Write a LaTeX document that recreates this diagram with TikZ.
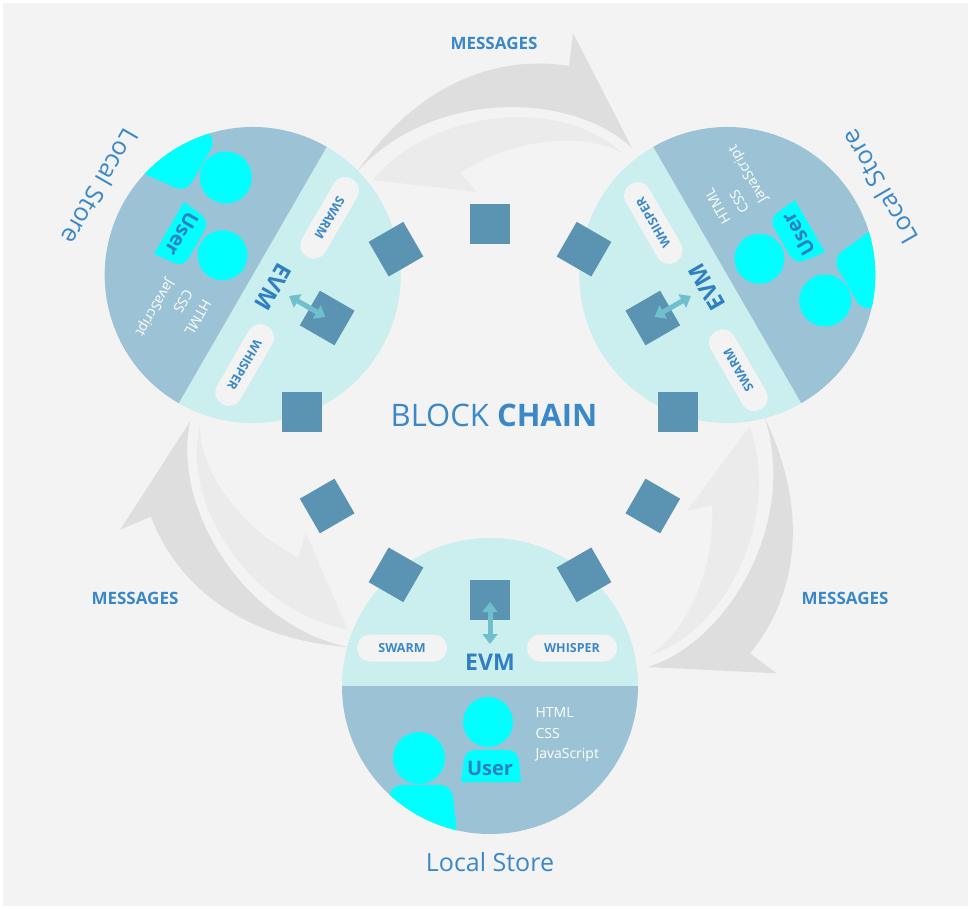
\documentclass[tikz,border=0pt]{standalone}
\usepackage{fontspec}
\setmainfont{Open Sans}
\usetikzlibrary{arrows.meta}
\definecolor{bg}{HTML}{F3F3F3}
\definecolor{upper}{HTML}{CBEEEE}
\definecolor{lower}{HTML}{9CC3D5}
\definecolor{txtblue}{HTML}{3A88C8}
\definecolor{evmblue}{HTML}{2F7FC1}
\definecolor{sqc}{HTML}{5B93B3}
\definecolor{arrc}{HTML}{6FBFCC}
\definecolor{grayA}{HTML}{DEDEDE}
\definecolor{grayB}{HTML}{EBEBEB}
\definecolor{cyanu}{HTML}{00FFFF}
\tikzset{
  pill/.style={fill=bg, rounded corners=13pt, minimum width=90pt, minimum height=27pt, inner sep=0pt, text=txtblue, font=\bfseries\fontsize{12.5}{12.5}\selectfont},
  sq/.style={fill=sqc, minimum size=40pt, inner sep=0pt},
  evmarrow/.style={arrc, line width=5pt, {Triangle[width=15pt,length=10pt]}-{Triangle[width=15pt,length=10pt]}, shorten <=2pt},
  msg/.style={text=txtblue, font=\bfseries\fontsize{17}{17}\selectfont},
  web/.style={text=white, anchor=west, font=\fontsize{14}{14}\selectfont},
}
\newcommand\nodeview[1]{%
  \begin{scope}
    \clip (490,686) circle (148);
    \fill[upper] (330,520) rectangle (650,686);
    \fill[lower] (330,686) rectangle (650,850);
    \fill[cyanu] (419,758) circle (26);
    \fill[cyanu] (385,845) [rounded corners=12pt] -- (390,785) -- (452,785) [sharp corners] -- (458,845) -- cycle;
    \fill[cyanu] (488,722) circle (25);
    \fill[cyanu] (461,782) [rounded corners=10pt] -- (465,750) -- (518,750) [sharp corners] -- (521,782) -- cycle;
  \end{scope}
  \node[pill] (swarm#1) at (402,648) {SWARM};
  \node[pill] (whisper#1) at (572,648) {WHISPER};
  \node[text=evmblue, font=\bfseries\fontsize{23}{23}\selectfont] (evm#1) at (490,662) {EVM};
  \node[text=evmblue, font=\bfseries\fontsize{20}{20}\selectfont] (user#1) at (490,768) {User};
  \node[web] (html#1) at (532,712) {HTML};
  \node[web] (css#1) at (532,733) {CSS};
  \node[web] (js#1) at (532,755) {JavaScript};
  \node[text=txtblue, font=\fontsize{25}{25}\selectfont] (ls#1) at (490,862) {Local Store};
}
\newcommand\gaparrows{%
  \fill[grayA] (357,172) .. controls (420,80) and (500,55) .. (569,66) -- (573,33) -- (632,148) .. controls (570,90) and (430,90) .. (357,172) -- cycle;
  \fill[grayB] (622,153) .. controls (560,95) and (430,110) .. (373,180) -- (477,192) -- (460,173) .. controls (510,140) and (580,130) .. (622,153) -- cycle;
}
\begin{document}
\begin{tikzpicture}[x=1pt,y=-1pt]
\useasboundingbox (0,0) rectangle (971,909);
\fill[white] (0,0) rectangle (971,909);
\fill[bg] (3,3) rectangle (968,906);
\gaparrows
\begin{scope}[rotate around={120:(490,412)}] \gaparrows \end{scope}
\begin{scope}[rotate around={-120:(490,412)}] \gaparrows \end{scope}
\nodeview{b}
\begin{scope}[rotate around={-120:(490,412)}, transform shape] \nodeview{l} \end{scope}
\begin{scope}[rotate around={120:(490,412)}, transform shape] \nodeview{r} \end{scope}
\foreach \k in {0,...,11}{
  \begin{scope}[rotate around={30*\k:(490,412)}, transform shape]
    \node[sq] (sq\k) at (490,600) {};
  \end{scope}
}
\coordinate (eb) at (490,644);
\draw[evmarrow] (sq0.center) -- (eb);
\begin{scope}[rotate around={-120:(490,412)}]
  \coordinate (el) at (490,644);
\end{scope}
\draw[evmarrow] (sq8.center) -- (el);
\begin{scope}[rotate around={120:(490,412)}]
  \coordinate (er) at (490,644);
\end{scope}
\draw[evmarrow] (sq4.center) -- (er);
\node[text=txtblue, font=\fontsize{31}{31}\selectfont] (bc) at (494,415) {BLOCK \textbf{CHAIN}};
\node[msg] (m1) at (494,43) {MESSAGES};
\node[msg] (m2) at (135,598) {MESSAGES};
\node[msg] (m3) at (845,598) {MESSAGES};
\end{tikzpicture}
\end{document}
